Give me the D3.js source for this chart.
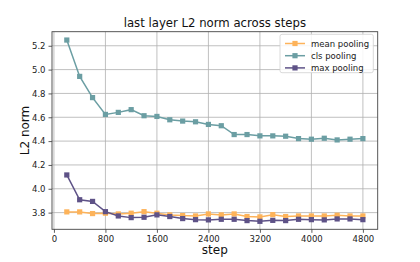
<!DOCTYPE html>
<html>
<head>
<meta charset="utf-8">
<script src="https://cdn.jsdelivr.net/npm/d3@7"></script>
<style>
  body { margin: 0; background: #fff; }
  svg { display: block; font-family: "DejaVu Sans", sans-serif; }
</style>
</head>
<body>
<svg width="420" height="262"></svg>
<script>
// chart data
const steps = [200, 400, 600, 800, 1000, 1200, 1400, 1600, 1800, 2000, 2200, 2400,
    2600, 2800, 3000, 3200, 3400, 3600, 3800, 4000, 4200, 4400, 4600, 4800];
const meanPooling = [3.806, 3.806, 3.792, 3.795, 3.789, 3.795, 3.808, 3.795, 3.781, 3.775, 3.772, 3.789,
    3.781, 3.789, 3.767, 3.764, 3.783, 3.767, 3.772, 3.772, 3.772, 3.778, 3.772, 3.772];
const clsPooling = [5.248, 4.943, 4.765, 4.624, 4.641, 4.664, 4.613, 4.607, 4.579, 4.568, 4.562, 4.540,
    4.529, 4.455, 4.455, 4.444, 4.444, 4.441, 4.421, 4.416, 4.424, 4.410, 4.416, 4.421];
const maxPooling = [4.116, 3.908, 3.894, 3.808, 3.772, 3.758, 3.761, 3.781, 3.767, 3.750, 3.741, 3.739,
    3.744, 3.744, 3.733, 3.727, 3.735, 3.733, 3.744, 3.741, 3.739, 3.747, 3.747, 3.741];
const xTicks = [0, 800, 1600, 2400, 3200, 4000, 4800];
const yTicks = [3.8, 4.0, 4.2, 4.4, 4.6, 4.8, 5.0, 5.2];
const seriesNames = ["mean pooling", "cls pooling", "max pooling"];
const seriesColors = ["#fdb35a", "#6b9ea3", "#5e5287"];

window.addEventListener('load', () => {
    const svg = d3.select("svg");
    const left = 52, right = 377.7, top = 31.7, bottom = 229.3;

    const x = d3.scaleLinear().domain([-30, 5030]).range([left, right]);
    const y = d3.scaleLinear().domain([3.66, 5.318]).range([bottom, top]);

    // grid
    const grid = svg.append("g");
    grid.selectAll(".vg").data(xTicks).enter().append("line")
        .attr("x1", d => x(d)).attr("x2", d => x(d))
        .attr("y1", top).attr("y2", bottom)
        .attr("stroke", "#b0b0b0").attr("stroke-width", 0.8);
    grid.selectAll(".hg").data(yTicks).enter().append("line")
        .attr("x1", left).attr("x2", right)
        .attr("y1", d => y(d)).attr("y2", d => y(d))
        .attr("stroke", "#b0b0b0").attr("stroke-width", 0.8);

    // axes
    const xAxis = svg.append("g").attr("transform", "translate(0," + bottom + ")")
        .call(d3.axisBottom(x).tickValues(xTicks).tickSize(3.5).tickPadding(3).tickSizeOuter(0).tickFormat(d3.format("d")));
    const yAxis = svg.append("g").attr("transform", "translate(" + left + ",0)")
        .call(d3.axisLeft(y).tickValues(yTicks).tickSize(3.5).tickPadding(3).tickSizeOuter(0).tickFormat(d3.format(".1f")));
    [xAxis, yAxis].forEach(a => {
        a.select(".domain").remove();
        a.selectAll("text").attr("font-size", "8.5px").attr("fill", "#222")
            .attr("font-family", "DejaVu Sans, sans-serif");
        a.selectAll(".tick line").attr("stroke", "#333").attr("stroke-width", 0.8);
    });

    // spines
    svg.append("rect").attr("x", left).attr("y", top)
        .attr("width", right - left).attr("height", bottom - top)
        .attr("fill", "none").attr("stroke", "#444").attr("stroke-width", 0.9);

    // lines + markers
    const allSeries = [meanPooling, clsPooling, maxPooling];
    const line = d3.line().x((d, i) => x(steps[i])).y(d => y(d));
    allSeries.forEach((vals, k) => {
        const g = svg.append("g");
        g.append("path").datum(vals).attr("d", line)
            .attr("fill", "none").attr("stroke", seriesColors[k]).attr("stroke-width", 1.5);
        g.selectAll("rect").data(vals).enter().append("rect")
            .attr("x", (d, i) => x(steps[i]) - 2.6)
            .attr("y", d => y(d) - 2.6)
            .attr("width", 5.2).attr("height", 5.2)
            .attr("fill", seriesColors[k]);
    });

    // legend
    const lg = svg.append("g");
    lg.append("rect").attr("x", 280).attr("y", 34.3).attr("width", 93.3).attr("height", 38.4)
        .attr("rx", 2).attr("fill", "rgba(255,255,255,0.85)").attr("stroke", "#d0d0d0").attr("stroke-width", 0.8);
    seriesNames.forEach((name, k) => {
        const ly = 43.5 + k * 12.2;
        lg.append("line").attr("x1", 285).attr("x2", 305).attr("y1", ly).attr("y2", ly)
            .attr("stroke", seriesColors[k]).attr("stroke-width", 1.5);
        lg.append("rect").attr("x", 292.4).attr("y", ly - 2.6).attr("width", 5.2).attr("height", 5.2)
            .attr("fill", seriesColors[k]);
        lg.append("text").attr("x", 311).attr("y", ly + 3).attr("font-size", "8.5px").attr("fill", "#222")
            .text(name);
    });

    // titles
    svg.append("text").attr("text-anchor", "middle").attr("x", (left + right) / 2).attr("y", 27)
        .attr("font-size", "11.7px").attr("fill", "#111").text("last layer L2 norm across steps");
    svg.append("text").attr("text-anchor", "middle").attr("x", (left + right) / 2).attr("y", 254)
        .attr("font-size", "12px").attr("fill", "#111").text("step");
    svg.append("text").attr("text-anchor", "middle")
        .attr("transform", "translate(29," + (top + bottom) / 2 + ") rotate(-90)")
        .attr("font-size", "12px").attr("fill", "#111").text("L2 norm");
});
</script>
</body>
</html>
